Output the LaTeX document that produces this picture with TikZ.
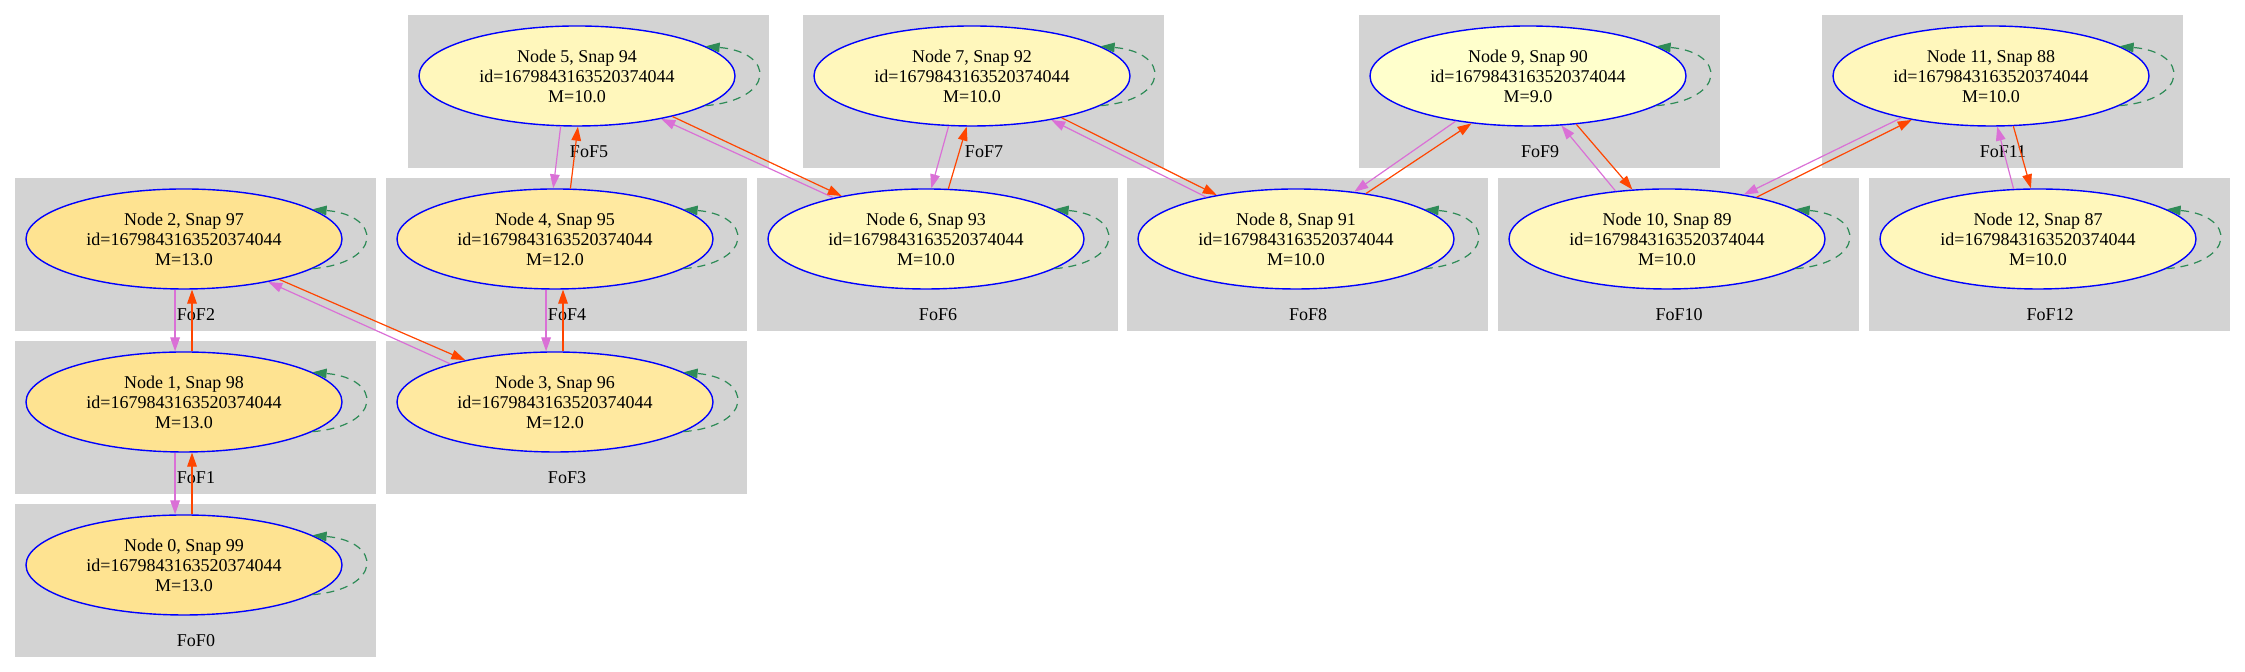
\documentclass[tikz,border=0pt]{standalone}
\usepackage{fontspec}
\setmainfont{Liberation Serif}
\usetikzlibrary{arrows.meta,shapes.geometric}
\definecolor{fofgrey}{HTML}{D3D3D3}
\definecolor{orchid}{HTML}{DA70D6}
\definecolor{orangered}{HTML}{FF4500}
\definecolor{seagreen}{HTML}{2E8B57}
\definecolor{mass13}{HTML}{FEE391}
\definecolor{mass12}{HTML}{FFE9A0}
\definecolor{mass10}{HTML}{FFF7BC}
\definecolor{mass9}{HTML}{FFFFCC}
\tikzstyle{fofbox} = [rectangle, fill=fofgrey, minimum width=180.5pt, minimum height=76.5pt, inner sep=0pt]
\tikzstyle{foflabel} = [font=\fontsize{9}{10}\selectfont, inner sep=0pt]
\tikzstyle{halo} = [ellipse, draw=blue, line width=0.7pt, minimum width=158pt, minimum height=50pt, inner sep=0pt, align=center, font=\fontsize{9}{10}\selectfont]
\tikzstyle{desc} = [draw=orchid, line width=0.6pt, -{Triangle[length=7pt,width=4.8pt]}]
\tikzstyle{prog} = [draw=orangered, line width=0.6pt, -{Triangle[length=7pt,width=4.8pt]}]
\tikzstyle{selfloop} = [draw=seagreen, dash pattern=on 4pt off 3pt, line width=0.6pt, -{Triangle[length=7pt,width=4.8pt]}]

\begin{document}
\begin{tikzpicture}[x=0.5pt,y=0.5pt]
\useasboundingbox (0,0) rectangle (2245,672);
% FoF groups
\draw (195.5,91.5) node (fof0) [fofbox] {};
\draw (195.5,254.5) node (fof1) [fofbox] {};
\draw (195.5,417.5) node (fof2) [fofbox] {};
\draw (566.5,254.5) node (fof3) [fofbox] {};
\draw (566.5,417.5) node (fof4) [fofbox] {};
\draw (588.5,580.5) node (fof5) [fofbox] {};
\draw (937.5,417.5) node (fof6) [fofbox] {};
\draw (983.5,580.5) node (fof7) [fofbox] {};
\draw (1307.5,417.5) node (fof8) [fofbox] {};
\draw (1539.5,580.5) node (fof9) [fofbox] {};
\draw (1678.5,417.5) node (fof10) [fofbox] {};
\draw (2002.5,580.5) node (fof11) [fofbox] {};
\draw (2049.5,417.5) node (fof12) [fofbox] {};
\draw (196,31) node (lab0) [foflabel] {FoF0};
\draw (196,194) node (lab1) [foflabel] {FoF1};
\draw (196,357) node (lab2) [foflabel] {FoF2};
\draw (567,194) node (lab3) [foflabel] {FoF3};
\draw (567,357) node (lab4) [foflabel] {FoF4};
\draw (589,520) node (lab5) [foflabel] {FoF5};
\draw (938,357) node (lab6) [foflabel] {FoF6};
\draw (984,520) node (lab7) [foflabel] {FoF7};
\draw (1308,357) node (lab8) [foflabel] {FoF8};
\draw (1540,520) node (lab9) [foflabel] {FoF9};
\draw (1679,357) node (lab10) [foflabel] {FoF10};
\draw (2003,520) node (lab11) [foflabel] {FoF11};
\draw (2050,357) node (lab12) [foflabel] {FoF12};
% halos
\draw (184,107) node (n0) [halo, fill=mass13] {Node 0, Snap 99\\id=1679843163520374044\\M=13.0};
\draw (184,270) node (n1) [halo, fill=mass13] {Node 1, Snap 98\\id=1679843163520374044\\M=13.0};
\draw (184,433) node (n2) [halo, fill=mass13] {Node 2, Snap 97\\id=1679843163520374044\\M=13.0};
\draw (555,270) node (n3) [halo, fill=mass12] {Node 3, Snap 96\\id=1679843163520374044\\M=12.0};
\draw (555,433) node (n4) [halo, fill=mass12] {Node 4, Snap 95\\id=1679843163520374044\\M=12.0};
\draw (577,596) node (n5) [halo, fill=mass10] {Node 5, Snap 94\\id=1679843163520374044\\M=10.0};
\draw (926,433) node (n6) [halo, fill=mass10] {Node 6, Snap 93\\id=1679843163520374044\\M=10.0};
\draw (972,596) node (n7) [halo, fill=mass10] {Node 7, Snap 92\\id=1679843163520374044\\M=10.0};
\draw (1296,433) node (n8) [halo, fill=mass10] {Node 8, Snap 91\\id=1679843163520374044\\M=10.0};
\draw (1528,596) node (n9) [halo, fill=mass9] {Node 9, Snap 90\\id=1679843163520374044\\M=9.0};
\draw (1667,433) node (n10) [halo, fill=mass10] {Node 10, Snap 89\\id=1679843163520374044\\M=10.0};
\draw (1991,596) node (n11) [halo, fill=mass10] {Node 11, Snap 88\\id=1679843163520374044\\M=10.0};
\draw (2038,433) node (n12) [halo, fill=mass10] {Node 12, Snap 87\\id=1679843163520374044\\M=10.0};
% descendants
\draw[desc] (n1.-100)--(n0.100);
\draw[desc] (n2.-100)--(n1.100);
\draw[desc] (n3.160)--(n2.-27);
\draw[desc] (n4.-100)--(n3.100);
\draw[desc] (n5.-108)--(n4.92);
\draw[desc] (n6.156)--(n5.-27);
\draw[desc] (n7.-115)--(n6.84);
\draw[desc] (n8.155)--(n7.-29);
\draw[desc] (n9.-148)--(n8.39);
\draw[desc] (n10.137)--(n9.-56);
\draw[desc] (n11.-155)--(n10.30);
\draw[desc] (n12.116)--(n11.-83);
% progenitors
\draw[prog] (n0.81)--(n1.-81);
\draw[prog] (n1.81)--(n2.-81);
\draw[prog] (n2.-23)--(n3.155);
\draw[prog] (n3.81)--(n4.-81);
\draw[prog] (n4.73)--(n5.-89);
\draw[prog] (n5.-23)--(n6.153);
\draw[prog] (n6.66)--(n7.-96);
\draw[prog] (n7.-25)--(n8.151);
\draw[prog] (n8.33)--(n9.-140);
\draw[prog] (n9.-45)--(n10.125);
\draw[prog] (n10.25)--(n11.-151);
\draw[prog] (n11.-66)--(n12.98);
% self loops
\draw[selfloop] (n0.-13) .. controls +(70,6) and +(70,-6) .. (n0.13);
\draw[selfloop] (n1.-13) .. controls +(70,6) and +(70,-6) .. (n1.13);
\draw[selfloop] (n2.-13) .. controls +(70,6) and +(70,-6) .. (n2.13);
\draw[selfloop] (n3.-13) .. controls +(70,6) and +(70,-6) .. (n3.13);
\draw[selfloop] (n4.-13) .. controls +(70,6) and +(70,-6) .. (n4.13);
\draw[selfloop] (n5.-13) .. controls +(70,6) and +(70,-6) .. (n5.13);
\draw[selfloop] (n6.-13) .. controls +(70,6) and +(70,-6) .. (n6.13);
\draw[selfloop] (n7.-13) .. controls +(70,6) and +(70,-6) .. (n7.13);
\draw[selfloop] (n8.-13) .. controls +(70,6) and +(70,-6) .. (n8.13);
\draw[selfloop] (n9.-13) .. controls +(70,6) and +(70,-6) .. (n9.13);
\draw[selfloop] (n10.-13) .. controls +(70,6) and +(70,-6) .. (n10.13);
\draw[selfloop] (n11.-13) .. controls +(70,6) and +(70,-6) .. (n11.13);
\draw[selfloop] (n12.-13) .. controls +(70,6) and +(70,-6) .. (n12.13);
\end{tikzpicture}
\end{document}
